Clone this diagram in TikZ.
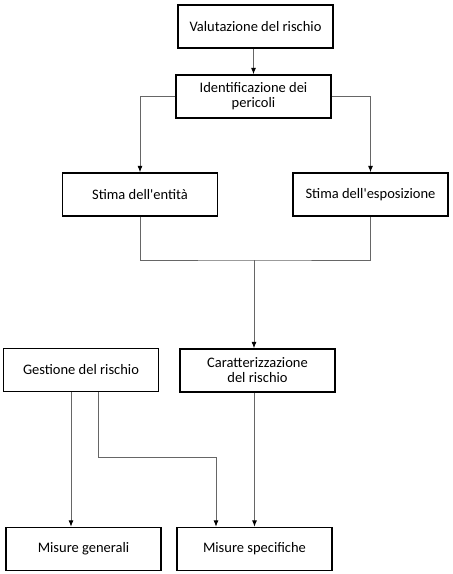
\documentclass[tikz,border=0pt]{standalone}
\usepackage{fontspec}
\setmainfont{Carlito}
\usetikzlibrary{arrows.meta}
\tikzset{>={Latex[black,length=6.5pt,width=5pt]}}
\tikzset{
  box/.style={draw=black,line width=1.3pt,minimum width=155pt,minimum height=43pt,
    align=center,font=\fontsize{14.5}{15}\selectfont,inner sep=2pt},
  link/.style={draw=black!60,line width=0.9pt}
}

\begin{document}
\begin{tikzpicture}[x=1pt,y=-1pt]
  \useasboundingbox (0,0) rectangle (453,574);
  % valutazione
  \node[box] (valut) at (255.5,26.5) {Valutazione del rischio};
  \node[box] (ident) at (253.5,96.5) {Identificazione dei\\pericoli};
  \node[box] (entita) at (140,194.5) {Stima dell\textquotesingle entità};
  \node[box] (espos) at (370.5,194.5) {Stima dell\textquotesingle esposizione};
  \node[box] (caratt) at (257.5,370.5) {Caratterizzazione\\del rischio};
  % gestione
  \node[box] (gest) at (81,370) {Gestione del rischio};
  \node[box] (generali) at (83.5,549) {Misure generali};
  \node[box] (specif) at (254.5,549) {Misure specifiche};
  \coordinate (join) at (254,260);
  \coordinate (bend) at (216,457);
  % 1
  \draw[link,->] (valut.south -| ident.north) -- (ident.north);
  \draw[link,->] (ident.west) -| (entita.north);
  \draw[link,->] (ident.east) -| (espos.north);
  % 2
  \draw[link] (entita.south) |- (join) -| (espos.south);
  \draw[link,->] (join) -- (join |- caratt.north);
  % 3
  \draw[link,->] ([xshift=-10pt]gest.south) -- ([xshift=-10pt]gest.south |- generali.north);
  \draw[link,->] ([xshift=17pt]gest.south) |- (bend) -- (bend |- specif.north);
  \draw[link,->] (caratt.south -| specif.north) -- (specif.north);
\end{tikzpicture}
\end{document}
